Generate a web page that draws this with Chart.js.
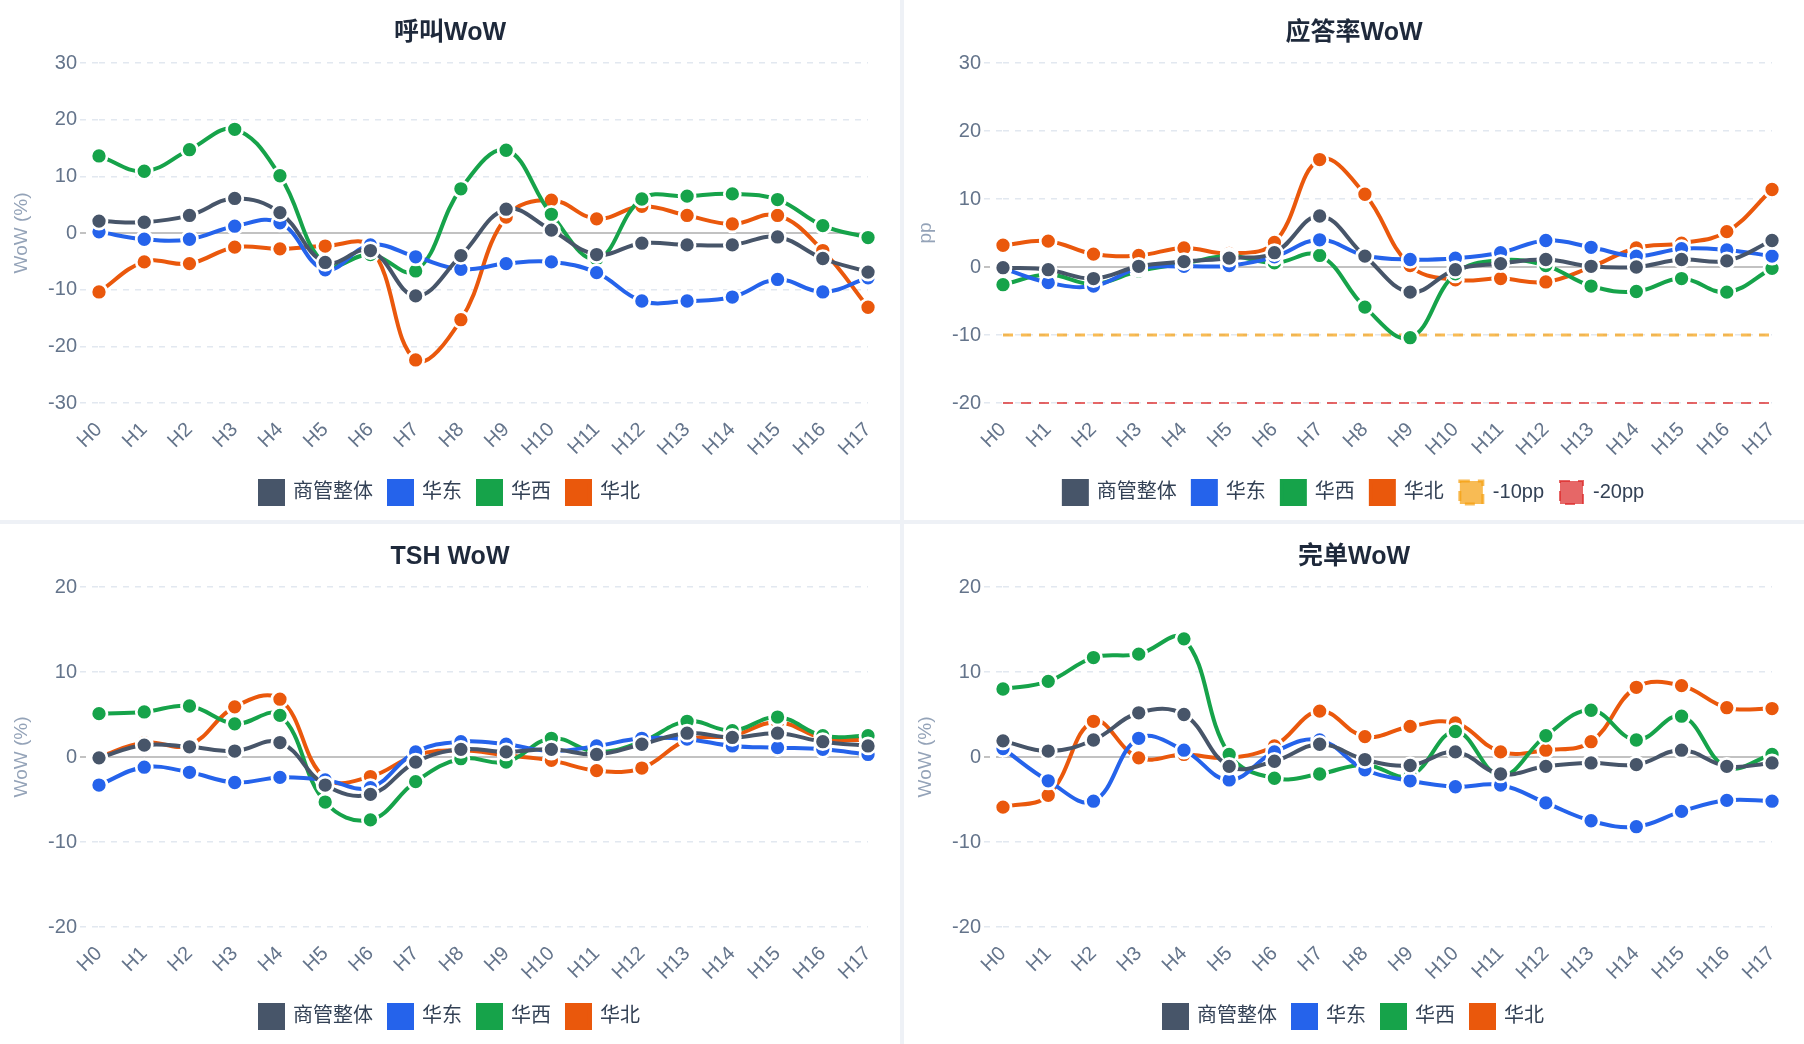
<!DOCTYPE html>
<html lang="zh-CN">
<head>
<meta charset="utf-8">
<title>WoW 看板</title>
<script src="https://cdn.jsdelivr.net/npm/chart.js@4.4.1/dist/chart.umd.min.js"></script>
<style>
    html, body {
        margin: 0;
        padding: 0;
        background: #eef1f6;
    }
    .grid {
        display: grid;
        grid-template-columns: 900px 900px;
        grid-template-rows: 520px 520px;
        gap: 4px;
        width: 1804px;
    }
    .panel {
        background: #ffffff;
        width: 900px;
        height: 520px;
    }
    canvas {
        display: block;
    }
</style>
</head>
<body>
<div class="grid">
    <div class="panel"><canvas id="chart-call" width="900" height="520"></canvas></div>
    <div class="panel"><canvas id="chart-answer" width="900" height="520"></canvas></div>
    <div class="panel"><canvas id="chart-tsh" width="900" height="520"></canvas></div>
    <div class="panel"><canvas id="chart-order" width="900" height="520"></canvas></div>
</div>
<script>
// ============================================
// DONNEES
// ============================================

const hours = ['H0', 'H1', 'H2', 'H3', 'H4', 'H5', 'H6', 'H7', 'H8', 'H9',
               'H10', 'H11', 'H12', 'H13', 'H14', 'H15', 'H16', 'H17'];

const seriesNames = ['商管整体', '华东', '华西', '华北'];

// 呼叫WoW (%)
const callTotal = [2.1, 1.9, 3.1, 6.1, 3.6, -5.2, -3.1, -11.1, -4.0, 4.2, 0.5, -3.8, -1.8, -2.1, -2.1, -0.7, -4.5, -6.9];
const callEast  = [0.2, -1.1, -1.1, 1.2, 1.8, -6.5, -2.1, -4.2, -6.4, -5.4, -5.1, -7.0, -12.0, -12.0, -11.3, -8.2, -10.4, -7.9];
const callWest  = [13.6, 10.9, 14.7, 18.3, 10.1, -5.5, -3.8, -6.7, 7.8, 14.6, 3.3, -4.6, 6.0, 6.5, 6.9, 5.9, 1.3, -0.8];
const callNorth = [-10.4, -5.1, -5.4, -2.5, -2.8, -2.3, -2.5, -22.4, -15.3, 2.8, 5.8, 2.5, 4.7, 3.1, 1.6, 3.1, -3.1, -13.1];

// 应答率WoW (pp)
const answerTotal = [-0.1, -0.4, -1.7, 0.1, 0.8, 1.3, 2.1, 7.5, 1.6, -3.7, -0.4, 0.5, 1.1, 0.1, 0.0, 1.1, 0.9, 3.9];
const answerEast  = [-0.2, -2.3, -2.8, -0.2, 0.1, 0.2, 1.5, 4.0, 1.7, 1.1, 1.3, 2.1, 3.9, 2.9, 1.6, 2.7, 2.5, 1.6];
const answerWest  = [-2.6, -1.1, -2.5, -0.6, 0.5, 1.6, 0.6, 1.7, -5.9, -10.4, -1.0, 1.0, 0.2, -2.8, -3.6, -1.7, -3.7, -0.2];
const answerNorth = [3.2, 3.8, 1.9, 1.7, 2.8, 2.0, 3.6, 15.8, 10.7, 0.2, -1.9, -1.7, -2.2, 0.0, 2.8, 3.5, 5.2, 11.4];
const answerMinus10 = [-10, -10, -10, -10, -10, -10, -10, -10, -10, -10, -10, -10, -10, -10, -10, -10, -10, -10];
const answerMinus20 = [-20, -20, -20, -20, -20, -20, -20, -20, -20, -20, -20, -20, -20, -20, -20, -20, -20, -20];

// TSH WoW (%)
const tshTotal = [-0.1, 1.4, 1.2, 0.7, 1.7, -3.3, -4.4, -0.6, 0.9, 0.6, 0.9, 0.3, 1.5, 2.8, 2.3, 2.8, 1.8, 1.3];
const tshEast  = [-3.3, -1.2, -1.8, -3.0, -2.4, -2.7, -3.6, 0.6, 1.8, 1.5, 0.7, 1.3, 2.2, 2.1, 1.3, 1.1, 0.9, 0.3];
const tshWest  = [5.1, 5.3, 6.0, 3.9, 4.9, -5.3, -7.4, -2.9, -0.2, -0.6, 2.2, 0.6, 1.8, 4.2, 3.1, 4.7, 2.5, 2.5];
const tshNorth = [0.0, 1.7, 1.4, 5.9, 6.8, -2.5, -2.3, 0.2, 0.8, 0.2, -0.4, -1.6, -1.3, 2.0, 2.5, 4.1, 2.2, 2.0];

// 完单WoW (%)
const orderTotal = [1.9, 0.7, 2.0, 5.2, 5.0, -1.1, -0.5, 1.5, -0.3, -1.0, 0.6, -2.0, -1.1, -0.7, -0.9, 0.8, -1.1, -0.7];
const orderEast  = [1.0, -2.8, -5.2, 2.2, 0.8, -2.7, 0.6, 2.0, -1.5, -2.8, -3.5, -3.3, -5.4, -7.5, -8.2, -6.4, -5.1, -5.2];
const orderWest  = [8.0, 8.9, 11.7, 12.1, 13.9, 0.3, -2.5, -2.0, -0.9, -2.2, 3.0, -2.2, 2.5, 5.5, 2.0, 4.8, -1.2, 0.3];
const orderNorth = [-5.9, -4.5, 4.2, -0.1, 0.3, -0.1, 1.3, 5.4, 2.4, 3.6, 4.0, 0.6, 0.8, 1.8, 8.2, 8.4, 5.8, 5.7];

// ============================================
// STYLES
// ============================================

const seriesColors = ['#475569', '#2563eb', '#16a34a', '#ea580c'];
const fontFamily = "'Liberation Sans', Arial, 'Noto Sans CJK SC', sans-serif";
const tickColor = '#64748b';

Chart.defaults.font.family = fontFamily;

function lineSeries(label, data, color) {
    return {
        label: label,
        data: data,
        borderColor: color,
        backgroundColor: color,
        borderWidth: 4,
        tension: 0.4,
        pointRadius: 8,
        pointBackgroundColor: color,
        pointBorderColor: '#ffffff',
        pointBorderWidth: 2.7,
        clip: false
    };
}

function refLine(label, data, color, width) {
    return {
        label: label,
        data: data,
        borderColor: color,
        backgroundColor: color,
        borderWidth: width,
        borderDash: [10, 8],
        pointRadius: 0,
        tension: 0,
        clip: false
    };
}

function regionSeries(values) {
    return values.map((data, i) => lineSeries(seriesNames[i], data, seriesColors[i]));
}

// ============================================
// CHART
// ============================================

function initChart(id, title, yTitle, yMin, yMax, datasets) {
    const ctx = document.getElementById(id).getContext('2d');

    new Chart(ctx, {
        type: 'line',
        data: {
            labels: hours,
            datasets: datasets
        },
        options: {
            responsive: false,
            animation: false,
            layout: {
                padding: { left: 16, right: 16, top: 0, bottom: 6 }
            },
            plugins: {
                title: {
                    display: true,
                    text: title,
                    color: '#1e293b',
                    font: { size: 25, weight: 'bold' },
                    padding: { top: 18, bottom: 15 }
                },
                legend: {
                    position: 'bottom',
                    labels: {
                        boxWidth: 23,
                        boxHeight: 23,
                        padding: 16,
                        color: '#334155',
                        font: { size: 20 }
                    }
                },
                tooltip: { enabled: false }
            },
            scales: {
                x: {
                    grid: { display: false, drawTicks: false },
                    border: { display: false },
                    ticks: {
                        color: tickColor,
                        font: { size: 20 },
                        minRotation: 45,
                        maxRotation: 45,
                        autoSkip: false,
                        padding: 15
                    },
                    afterFit: scale => { scale.height = 62; }
                },
                y: {
                    min: yMin,
                    max: yMax,
                    ticks: {
                        stepSize: 10,
                        color: tickColor,
                        font: { size: 20 },
                        padding: 3
                    },
                    title: {
                        display: true,
                        text: yTitle,
                        color: '#94a3b8',
                        font: { size: 19 },
                        padding: { top: -6, bottom: 0 }
                    },
                    grid: {
                        color: c => (c.tick && c.tick.value === 0) ? '#c2c2c2' : '#e2e8f0',
                        lineWidth: c => (c.tick && c.tick.value === 0) ? 2 : 1.5,
                        tickLength: 19,
                        tickBorderDash: [6, 6]
                    },
                    border: {
                        display: false,
                        dash: c => (c.tick && c.tick.value === 0) ? [] : [6, 6]
                    },
                    afterFit: scale => { scale.width = 83; }
                }
            }
        }
    });
}

initChart('chart-call', '呼叫WoW', 'WoW (%)', -30, 30,
    regionSeries([callTotal, callEast, callWest, callNorth]));

initChart('chart-answer', '应答率WoW', 'pp', -20, 30,
    regionSeries([answerTotal, answerEast, answerWest, answerNorth]).concat([
        refLine('-10pp', answerMinus10, 'rgba(245, 158, 11, 0.7)', 3),
        refLine('-20pp', answerMinus20, 'rgba(220, 38, 38, 0.7)', 2)
    ]));

initChart('chart-tsh', 'TSH WoW', 'WoW (%)', -20, 20,
    regionSeries([tshTotal, tshEast, tshWest, tshNorth]));

initChart('chart-order', '完单WoW', 'WoW (%)', -20, 20,
    regionSeries([orderTotal, orderEast, orderWest, orderNorth]));
</script>
</body>
</html>
